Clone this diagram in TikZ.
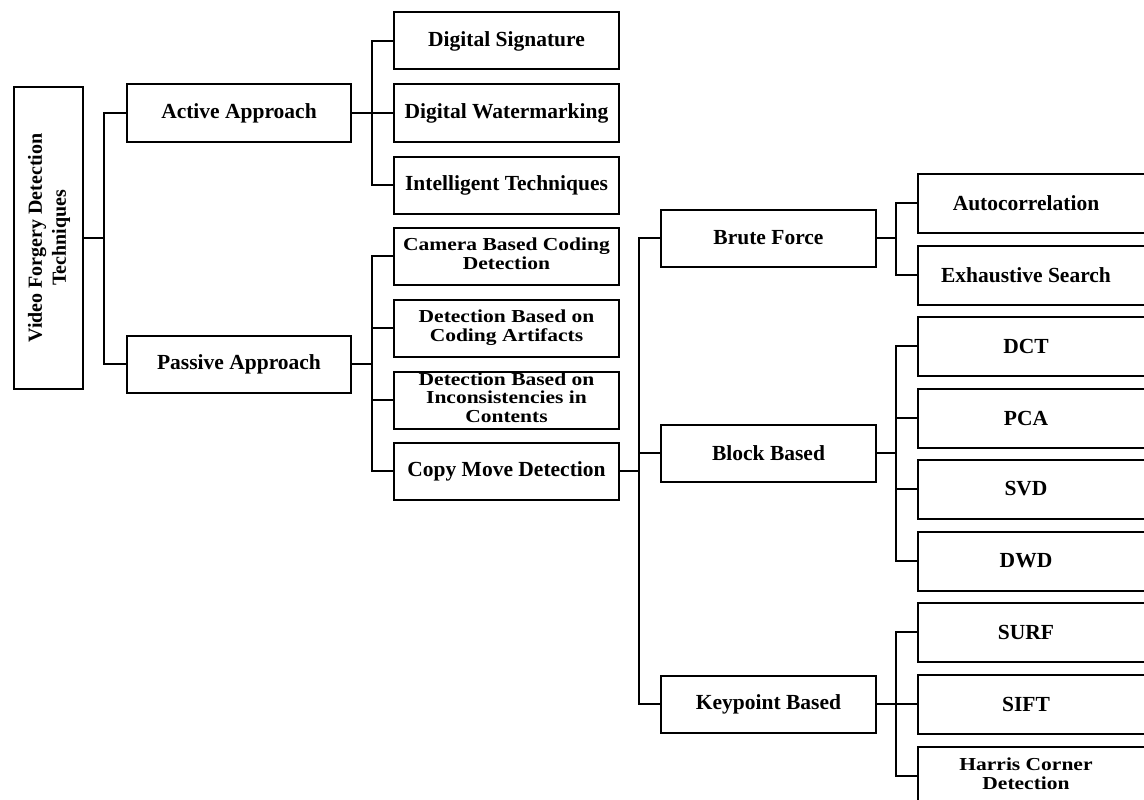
\documentclass[tikz,border=0pt]{standalone}
\usepackage{fontspec}
\setmainfont{Liberation Serif}
\newcommand\sqz[1]{\scalebox{1}[0.85]{\begin{tabular}{@{}c@{}}#1\end{tabular}}}
\begin{document}
\begin{tikzpicture}[x=1pt,y=-1pt,
  line width=2pt,
  box/.style={draw, rectangle, minimum height=57pt, inner xsep=1pt, inner ysep=0pt, align=center,
    font=\fontsize{21.5}{22}\selectfont\bfseries},
  rootbox/.style={draw, rectangle, minimum width=69pt, minimum height=302pt, inner sep=0pt},
  lone/.style={box, minimum width=224pt},
  ltwo/.style={box, minimum width=225pt},
  lthree/.style={box, minimum width=215pt},
  leaf/.style={box, draw=none, minimum width=214pt},
  conn/.style={line width=2pt}]
\useasboundingbox (0,0) rectangle (1144,800);
\clip (0,0) rectangle (1144,800);

% root
\node[rootbox] (root) at (48.5,238) {};
\node[rotate=90, align=center, font=\fontsize{20}{24}\selectfont\bfseries] (roottext) at ([xshift=0.5pt]root.center) {Video Forgery Detection\\Techniques};

% level 1
\node[lone] (act) at (239,113) {Active Approach};
\node[lone] (pas) at (239,364) {Passive Approach};

% level 2
\node[ltwo] (ds) at (506.5,41) {Digital Signature};
\node[ltwo] (dw) at (506.5,113) {Digital Watermarking};
\node[ltwo] (it) at (506.5,185) {Intelligent Techniques};
\node[ltwo] (cb) at (506.5,256) {\sqz{Camera Based Coding\\Detection}};
\node[ltwo] (ca) at (506.5,328) {\sqz{Detection Based on\\Coding Artifacts}};
\node[ltwo] (ic) at (506.5,400) {\sqz{Detection Based on\\Inconsistencies in\\Contents}};
\node[ltwo] (cm) at (506.5,471) {Copy Move Detection};

% level 3
\node[lthree] (bf) at (768.5,238) {Brute Force};
\node[lthree] (bb) at (768.5,453) {Block Based};
\node[lthree] (kb) at (768.5,704) {Keypoint Based};

% level 4 (boxes run off the right edge)
\node[leaf] (ac) at (1026,203) {Autocorrelation};
\node[leaf] (es) at (1026,275) {Exhaustive Search};
\node[leaf] (dct) at (1026,346) {DCT};
\node[leaf] (pca) at (1026,418) {PCA};
\node[leaf] (svd) at (1026,489) {SVD};
\node[leaf] (dwd) at (1026,561) {DWD};
\node[leaf] (surf) at (1026,632) {SURF};
\node[leaf] (sift) at (1026,704) {SIFT};
\node[leaf] (hcd) at (1026,776) {\sqz{Harris Corner\\Detection}};
\foreach \n in {ac,es,dct,pca,svd,dwd,surf,sift,hcd}
  \draw (\n.north west) rectangle ([xshift=40pt]\n.south east);

% connectors
\draw[conn] (act.west) -- ++(-22,0) |- (pas.west);
\draw[conn] (root.east) -- ([xshift=-22pt]act.west |- root.east);

\draw[conn] (ds.west) -- ++(-21,0) |- (it.west);
\draw[conn] (dw.west) -- (act.east);

\draw[conn] (cb.west) -- ++(-21,0) |- (cm.west);
\draw[conn] (ca.west) -- ++(-21,0);
\draw[conn] (ic.west) -- ++(-21,0);
\draw[conn] (pas.east) -- ([xshift=-21pt]cb.west |- pas.east);

\draw[conn] (bf.west) -- ++(-21,0) |- (kb.west);
\draw[conn] (bb.west) -- ++(-21,0);
\draw[conn] (cm.east) -- ([xshift=-21pt]bf.west |- cm.east);

\draw[conn] (ac.west) -- ++(-22,0) |- (es.west);
\draw[conn] (bf.east) -- ([xshift=-22pt]ac.west |- bf.east);

\draw[conn] (dct.west) -- ++(-22,0) |- (dwd.west);
\draw[conn] (pca.west) -- ++(-22,0);
\draw[conn] (svd.west) -- ++(-22,0);
\draw[conn] (bb.east) -- ([xshift=-22pt]dct.west |- bb.east);

\draw[conn] (surf.west) -- ++(-22,0) |- (hcd.west);
\draw[conn] (sift.west) -- (kb.east);
\end{tikzpicture}
\end{document}
